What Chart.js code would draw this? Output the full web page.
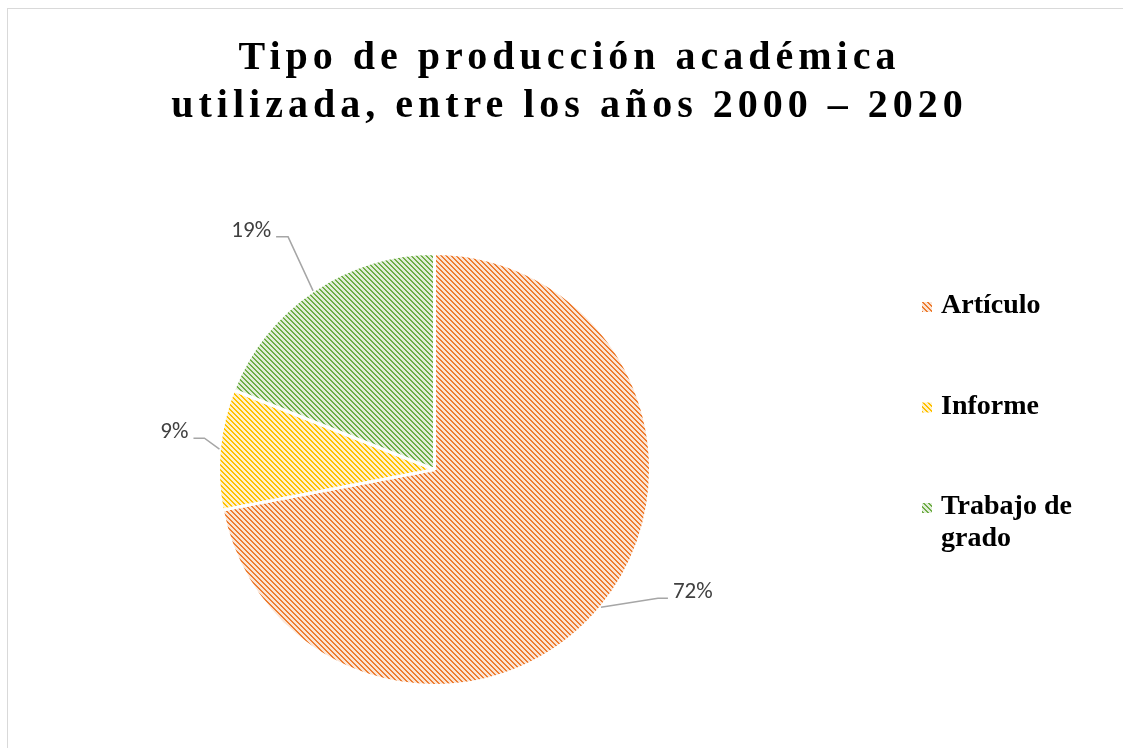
<!DOCTYPE html>
<html lang="es">
<head>
<meta charset="utf-8">
<title>Tipo de producción académica</title>
<script src="https://cdn.jsdelivr.net/npm/chart.js@4.4.1/dist/chart.umd.min.js"></script>
<style>
  html, body { margin: 0; padding: 0; background: #fff; }
  body { width: 1123px; height: 748px; position: relative; overflow: hidden; }
  .frame {
    position: absolute; left: 7px; top: 8px;
    width: 1140px; height: 760px;
    border: 1px solid #d9d9d9; box-sizing: border-box;
  }
  #chart { position: absolute; left: 0; top: 0; }
</style>
</head>
<body>
<div class="frame"></div>
<canvas id="chart" width="1123" height="748"></canvas>
<script>
const titleLines = ['Tipo de producción académica', 'utilizada, entre los años 2000 – 2020'];
const categories = ['Artículo', 'Informe', 'Trabajo de grado'];
const shares = [72, 9, 19];

const lineColors = ['#ED7D31', '#FFC000', '#70AD47'];
const paperColors = ['#FBE5D6', '#FFF2CC', '#E2EFDA'];
// leader line per slice: elbow offset from the slice edge, then the short flat run
const leaderBends = [[57, -9, 10], [-15, -11, -11], [-25, -54, -12]];

const SERIF = '"Liberation Serif", "Times New Roman", serif';
const canvas = document.getElementById('chart');
const ctx0 = canvas.getContext('2d');

// Excel-like downward diagonal hatch
function hatch(fg, bg) {
  const size = 5;
  const tile = document.createElement('canvas');
  tile.width = tile.height = size;
  const c = tile.getContext('2d');
  c.fillStyle = bg;
  c.fillRect(0, 0, size, size);
  c.fillStyle = fg;
  for (let y = 0; y < size; y++) {
    for (let x = 0; x < size; x++) {
      if ((((x - y) % size) + size) % size < 2) c.fillRect(x, y, 1, 1);
    }
  }
  return ctx0.createPattern(tile, 'repeat');
}

const fills = lineColors.map((fg, i) => hatch(fg, paperColors[i]));

function wrapWords(ctx, text, maxWidth) {
  const lines = [];
  let line = '';
  text.split(' ').forEach((word) => {
    const next = line ? line + ' ' + word : word;
    if (line && ctx.measureText(next).width > maxWidth) {
      lines.push(line);
      line = word;
    } else {
      line = next;
    }
  });
  if (line) lines.push(line);
  return lines;
}

const chartTitle = {
  id: 'chartTitle',
  beforeDraw(chart) {
    const ctx = chart.ctx;
    ctx.save();
    ctx.font = 'bold 40px ' + SERIF;
    ctx.letterSpacing = '5px';
    ctx.fillStyle = '#000';
    ctx.textAlign = 'center';
    ctx.textBaseline = 'alphabetic';
    const cx = (chart.width + 15) / 2 + 0.5;
    titleLines.forEach((t, i) => ctx.fillText(t, cx, 69 + i * 48));
    ctx.restore();
  }
};

const sideLegend = {
  id: 'sideLegend',
  afterDraw(chart) {
    const ctx = chart.ctx;
    const left = chart.width - 201;
    ctx.save();
    ctx.font = 'bold 28px ' + SERIF;
    ctx.textAlign = 'left';
    ctx.textBaseline = 'middle';
    categories.forEach((name, i) => {
      const cy = 307 + i * 100.5;
      ctx.fillStyle = fills[i];
      ctx.fillRect(left, cy - 5, 10, 10);
      ctx.fillStyle = '#000';
      wrapWords(ctx, name, 160).forEach((line, j) => {
        ctx.fillText(line, left + 19, cy - 1 + j * 32);
      });
    });
    ctx.restore();
  }
};

const leaderLabels = {
  id: 'leaderLabels',
  afterDatasetsDraw(chart) {
    const ctx = chart.ctx;
    const arcs = chart.getDatasetMeta(0).data;
    const total = shares.reduce((a, b) => a + b, 0);
    ctx.save();
    ctx.font = '23px Carlito, Lato, "Liberation Sans", sans-serif';
    ctx.fillStyle = '#404040';
    ctx.strokeStyle = '#A6A6A6';
    ctx.lineWidth = 1.5;
    ctx.textBaseline = 'middle';
    arcs.forEach((arc, i) => {
      const { x, y, startAngle, endAngle, outerRadius } =
        arc.getProps(['x', 'y', 'startAngle', 'endAngle', 'outerRadius'], true);
      const mid = (startAngle + endAngle) / 2;
      const ax = x + Math.cos(mid) * outerRadius;
      const ay = y + Math.sin(mid) * outerRadius;
      const [dx, dy, run] = leaderBends[i];
      const ex = ax + dx;
      const ey = ay + dy;
      const fx = ex + run;
      ctx.beginPath();
      ctx.moveTo(ax, ay);
      ctx.lineTo(ex, ey);
      ctx.lineTo(fx, ey);
      ctx.stroke();
      ctx.textAlign = run > 0 ? 'left' : 'right';
      const pct = Math.round(shares[i] / total * 100) + '%';
      ctx.fillText(pct, fx + Math.sign(run) * 5, ey - 6);
    });
    ctx.restore();
  }
};

new Chart(canvas, {
  type: 'pie',
  data: {
    labels: categories,
    datasets: [{
      data: shares,
      backgroundColor: fills,
      borderColor: '#ffffff',
      borderWidth: 3
    }]
  },
  options: {
    responsive: false,
    animation: false,
    layout: {
      padding: { top: 252, left: 217, right: 471, bottom: 61 }
    },
    plugins: {
      legend: { display: false },
      title: { display: false },
      tooltip: { enabled: false }
    }
  },
  plugins: [chartTitle, sideLegend, leaderLabels]
});
</script>
</body>
</html>
